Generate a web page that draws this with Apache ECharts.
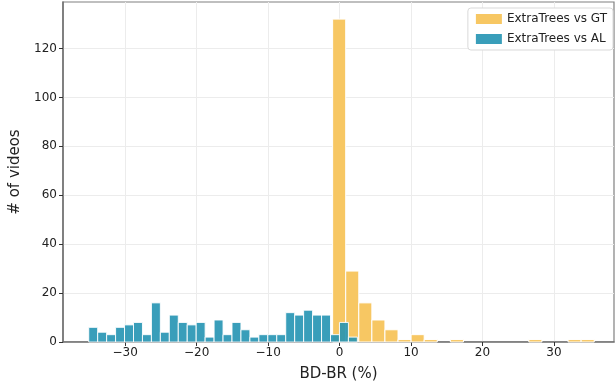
<!DOCTYPE html>
<html>
<head>
<meta charset="utf-8">
<script src="https://cdn.jsdelivr.net/npm/echarts@6/dist/echarts.min.js"></script>
<style>
  html, body { margin: 0; padding: 0; background: #fff; }
  #chart { width: 616px; height: 387px; }
</style>
</head>
<body>
<div id="chart"></div>
<script>
// histogram counts
const gtStart = -0.97;      // first bin edge, ExtraTrees vs GT
const gtWidth = 1.83;       // bin width
const gtCounts = [132, 29, 16, 9, 5, 1, 3, 1, 0, 1, 0, 0, 0, 0, 0, 1, 0, 0, 1, 1];

const alStart = -35.1;      // first bin edge, ExtraTrees vs AL
const alWidth = 1.253;
const alCounts = [6, 4, 3, 6, 7, 8, 3, 16, 4, 11, 8, 7, 8, 2, 9, 3, 8, 5, 2, 3,
                  3, 3, 12, 11, 13, 11, 11, 3, 8, 2];

const xTicks = [-30, -20, -10, 0, 10, 20, 30];
const yTicks = [0, 20, 40, 60, 80, 100, 120];

function toBins(start, width, counts) {
  return counts.map((c, i) => [start + i * width, start + (i + 1) * width, c]);
}

function histRender(params, api) {
  const h = api.value(2);
  if (!h) return null;
  const p0 = api.coord([api.value(0), h]);
  const p1 = api.coord([api.value(1), 0]);
  return {
    type: 'rect',
    shape: { x: p0[0], y: p0[1], width: p1[0] - p0[0], height: p1[1] - p0[1] },
    style: api.style({ stroke: '#fff', lineWidth: 1 })
  };
}

let myChart = echarts.init(document.getElementById('chart'));

let font = 'DejaVu Sans';
let option = {
  animation: false,
  textStyle: { fontFamily: font },
  grid: {
    left: 60, right: 2, top: 2, bottom: 45,
    show: true, borderColor: '#808080', borderWidth: 1.2
  },
  legend: {
    orient: 'vertical',
    right: 3, top: 8,
    itemWidth: 26, itemHeight: 10, itemGap: 8,
    padding: [5, 6, 5, 8],
    backgroundColor: '#fff',
    borderColor: '#d9d9d9', borderWidth: 1, borderRadius: 3,
    textStyle: { fontFamily: font, fontSize: 12, color: '#222' },
    data: [
      { name: 'ExtraTrees vs GT', icon: 'rect' },
      { name: 'ExtraTrees vs AL', icon: 'rect' }
    ]
  },
  xAxis: {
    type: 'value',
    min: -38.7, max: 38.4,
    name: 'BD-BR (%)',
    nameLocation: 'middle',
    nameGap: 25,
    nameTextStyle: { fontFamily: font, fontSize: 15, color: '#222' },
    axisLine: { onZero: false, lineStyle: { color: '#707070', width: 1.5 } },
    axisTick: { customValues: xTicks, length: 4, lineStyle: { color: '#333' } },
    axisLabel: {
      customValues: xTicks, margin: 5,
      fontFamily: font, fontSize: 12, color: '#222',
      formatter: v => (v < 0 ? '\u2212' + Math.abs(v) : String(v))
    },
    splitLine: { show: true, lineStyle: { color: '#ececec' } }
  },
  yAxis: {
    type: 'value',
    min: 0, max: 139,
    name: '# of videos',
    nameLocation: 'middle',
    nameGap: 40,
    nameTextStyle: { fontFamily: font, fontSize: 15, color: '#222' },
    axisLine: { show: true, onZero: false, lineStyle: { color: '#707070', width: 1.5 } },
    axisTick: { show: true, customValues: yTicks, length: 4, lineStyle: { color: '#333' } },
    axisLabel: { customValues: yTicks, margin: 6, fontFamily: font, fontSize: 12, color: '#222' },
    splitLine: { show: true, lineStyle: { color: '#ececec' } }
  },
  series: [
    {
      name: 'ExtraTrees vs GT',
      type: 'custom',
      renderItem: histRender,
      itemStyle: { color: '#f7c763' },
      encode: { x: [0, 1], y: 2 },
      data: toBins(gtStart, gtWidth, gtCounts)
    },
    {
      name: 'ExtraTrees vs AL',
      type: 'custom',
      renderItem: histRender,
      itemStyle: { color: '#2493b3', opacity: 0.9 },
      encode: { x: [0, 1], y: 2 },
      data: toBins(alStart, alWidth, alCounts)
    }
  ]
};

myChart.setOption(option);
</script>
</body>
</html>
